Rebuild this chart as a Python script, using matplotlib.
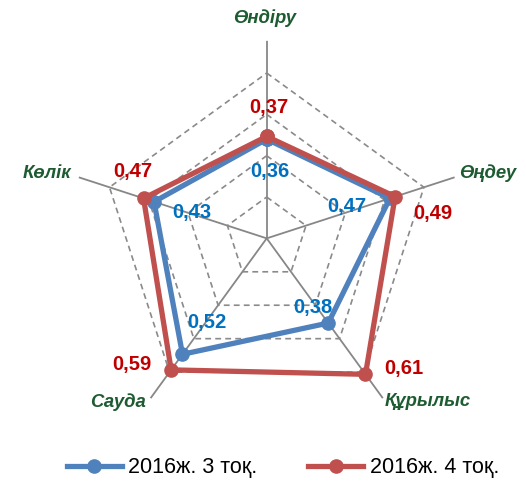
import numpy as np
import matplotlib
matplotlib.use("Agg")
import matplotlib.pyplot as plt
from matplotlib.lines import Line2D

plt.rcParams['font.family'] = ['Liberation Sans', 'DejaVu Sans']

# Data
categories = ["Өндіру", "Өңдеу", "Құрылыс", "Сауда", "Көлік"]
series_names = ["2016ж. 3 тоқ.", "2016ж. 4 тоқ."]
q3_values = [0.36, 0.47, 0.38, 0.52, 0.43]
q4_values = [0.37, 0.49, 0.61, 0.59, 0.47]
grid_levels = [0.15, 0.30, 0.45, 0.60]
r_max = 0.717

blue = "#4F81BD"
red = "#C0504D"
blue_txt = "#0070C0"
red_txt = "#C00000"
green_txt = "#1D5B31"

fig = plt.figure(figsize=(5.26, 4.83), dpi=100)
ax = fig.add_axes([0.1314, 0.0975, 0.7513, 0.818], projection="polar")
ax.set_theta_offset(np.pi / 2)
ax.set_theta_direction(-1)
ax.set_ylim(0, r_max)
ax.grid(False)
ax.spines["polar"].set_visible(False)
ax.set_xticks([])
ax.set_yticks([])
ax.patch.set_alpha(0)

n = len(categories)
theta = np.linspace(0, 2 * np.pi, n, endpoint=False)
theta_closed = np.append(theta, theta[0])

# spokes
for t in theta:
    ax.plot([t, t], [0, r_max], color="#878787", lw=1.3, zorder=1)

# dashed pentagon gridlines
for lv in grid_levels:
    ax.plot(theta_closed, [lv] * (n + 1), color="#8A8A8A", lw=1.2,
            linestyle=(0, (3.5, 2.5)), zorder=1)

# series
def closed(v):
    return list(v) + [v[0]]

ax.plot(theta_closed, closed(q3_values), color=blue, lw=3.8, marker="o",
        ms=9.5, solid_joinstyle="round", zorder=3)
ax.plot(theta_closed, closed(q4_values), color=red, lw=3.8, marker="o",
        ms=9.5, solid_joinstyle="round", zorder=4)

# value labels (offsets in pixels from each marker)
q3_offsets = [(3, -32), (-43, -8), (-15, 16), (24, 32), (38, -11)]
q4_offsets = [(2, 29), (38, -17), (38, 6), (-39, 5), (-11, 27)]
for t, v, off in zip(theta, q3_values, q3_offsets):
    ax.annotate(f"{v:.2f}".replace(".", ","), xy=(t, v), xytext=off,
                textcoords="offset pixels", ha="center", va="center",
                color=blue_txt, fontsize=14.5, fontweight="bold", zorder=6)
for t, v, off in zip(theta, q4_values, q4_offsets):
    ax.annotate(f"{v:.2f}".replace(".", ","), xy=(t, v), xytext=off,
                textcoords="offset pixels", ha="center", va="center",
                color=red_txt, fontsize=14.5, fontweight="bold", zorder=6)

# category labels near the end of each spoke
cat_offsets = [(-2, 23), (33, 4), (45, -3.5), (-32.5, -3.5), (-32, 4)]
for t, name, off in zip(theta, categories, cat_offsets):
    ax.annotate(name, xy=(t, r_max), xytext=off, textcoords="offset pixels",
                ha="center", va="center", color=green_txt, fontsize=13.3,
                fontweight="bold", fontstyle="italic")

handles = [
    Line2D([], [], color=blue, lw=3.8, marker="o", ms=9.5),
    Line2D([], [], color=red, lw=3.8, marker="o", ms=9.5),
]
fig.legend(handles, series_names, loc="center",
           bbox_to_anchor=(0.538, 1 - 468 / 483), ncol=2, frameon=False,
           fontsize=15.5, handlelength=2.55, handletextpad=0.3,
           columnspacing=2.35)

fig.savefig("out.png", dpi=100)
